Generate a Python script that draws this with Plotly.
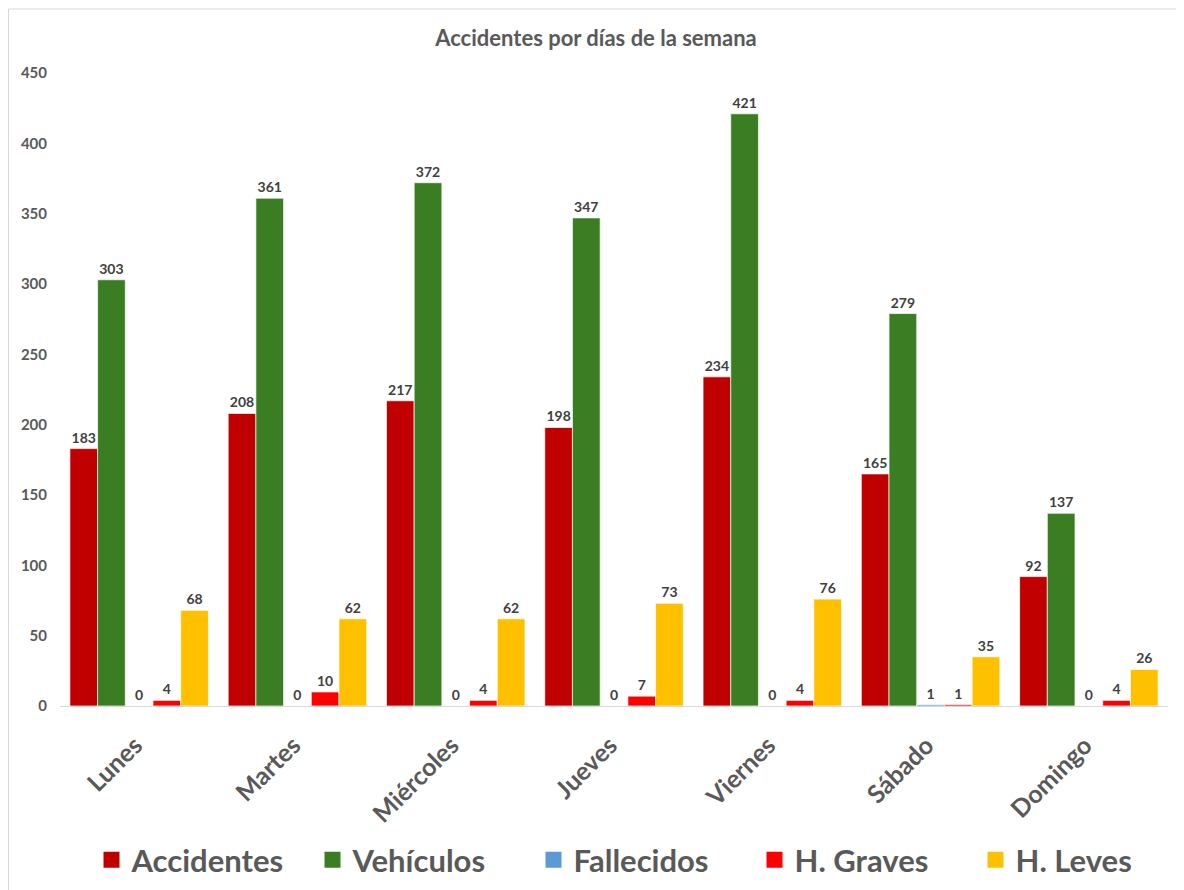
import plotly.graph_objects as go

dias = ["Lunes", "Martes", "Miércoles", "Jueves", "Viernes", "Sábado", "Domingo"]
accidentes = [183, 208, 217, 198, 234, 165, 92]
vehiculos = [303, 361, 372, 347, 421, 279, 137]
fallecidos = [0, 0, 0, 0, 0, 1, 0]
graves = [4, 10, 4, 7, 4, 1, 4]
leves = [68, 62, 62, 73, 76, 35, 26]
y_ticks = [0, 50, 100, 150, 200, 250, 300, 350, 400, 450]

series = [
    ("Accidentes", accidentes, "#C00000"),
    ("Vehículos", vehiculos, "#3A7D22"),
    ("Fallecidos", fallecidos, "#5B9BD5"),
    ("H. Graves", graves, "#FF0000"),
    ("H. Leves", leves, "#FFC000"),
]

FONT = "Lato, 'Open Sans', sans-serif"
W, H = 1176, 882
L, R, T, B = 52, 16, 65, 184
PW, PH = W - L - R, H - T - B

fig = go.Figure()
for name, vals, col in series:
    fig.add_trace(go.Bar(
        name=name, x=dias, y=vals, showlegend=False,
        marker=dict(color=col, line=dict(color="rgba(255,255,255,0.7)", width=1)),
        text=[str(v) for v in vals], textposition="outside",
        textfont=dict(family=FONT, size=14, color="#404040", weight="bold"),
        cliponaxis=False,
    ))
# legend entries with larger square swatches
for name, vals, col in series:
    fig.add_trace(go.Scatter(
        name=name, x=[None], y=[None], mode="markers",
        marker=dict(symbol="square", size=17, color=col), showlegend=True,
    ))

fig.update_layout(
    width=W, height=H,
    paper_bgcolor="white", plot_bgcolor="white",
    barmode="group", bargap=0.125, bargroupgap=0,
    margin=dict(l=L, r=R, t=T, b=B, autoexpand=False),
    title=dict(text="<b>Accidentes por días de la semana</b>", x=0.5, xanchor="center",
               y=1 - 30 / H, yanchor="middle",
               font=dict(family=FONT, size=22, color="#595959")),
    xaxis=dict(showgrid=False, showline=True, linecolor="#D9D9D9", linewidth=1,
               tickangle=-45, ticks="", automargin=False,
               ticklabelstandoff=14, ticklabelshift=-4,
               tickfont=dict(family=FONT, size=25, color="#595959", weight="bold")),
    yaxis=dict(range=[0, 450], tickvals=y_ticks, showgrid=False, zeroline=False,
               showline=False, ticks="", automargin=False, ticklabelstandoff=12,
               tickfont=dict(family=FONT, size=15, color="#595959", weight="bold")),
    legend=dict(orientation="h", x=0.5 + 30 / PW, xanchor="center", y=-(852 - 698) / PH,
                yanchor="middle",
                font=dict(family=FONT, size=31, color="#595959", weight="bold"),
                itemwidth=30, itemsizing="trace", traceorder="normal",
                entrywidth=176),
    shapes=[dict(type="rect", xref="paper", yref="paper",
                 x0=(0.5 - L) / PW, x1=(W + 20 - L) / PW,
                 y0=-(H + 20 - (T + PH)) / PH, y1=1 + (T - 1) / PH,
                 line=dict(color="#D9D9D9", width=1), fillcolor="rgba(0,0,0,0)", layer="below")],
)

fig.write_html("out.html")
